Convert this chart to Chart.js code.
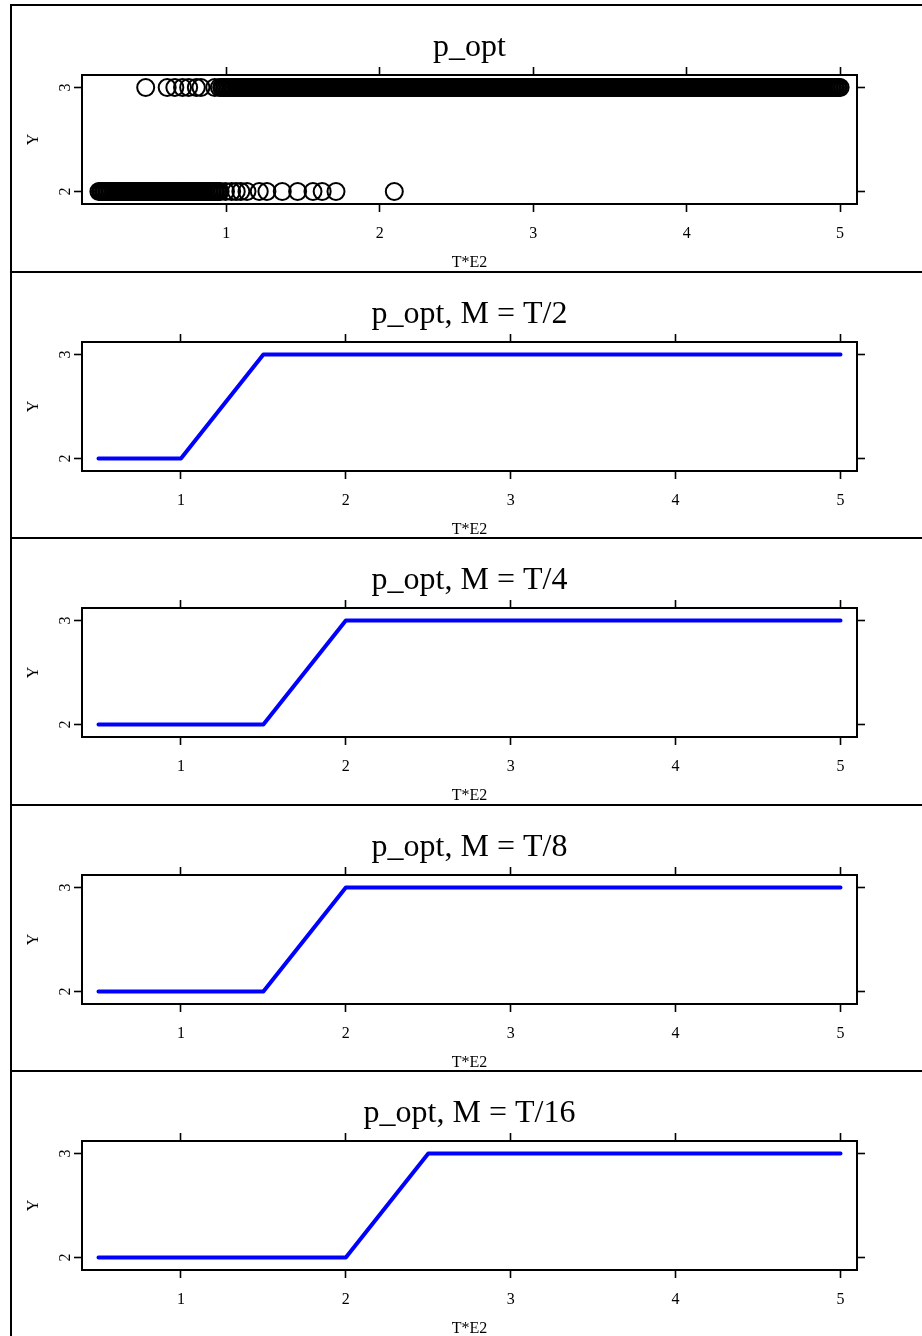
<!DOCTYPE html>
<html><head><meta charset="utf-8">
<script src="https://cdn.jsdelivr.net/npm/chart.js@4/dist/chart.umd.min.js"></script>
<style>
html,body{margin:0;padding:0;background:#fff;}
body{width:922px;height:1336px;position:relative;overflow:hidden;}
.frame{position:absolute;left:10px;width:1000px;height:300px;border-left:2px solid #000;border-top:2px solid #000;box-sizing:border-box;}
canvas{position:absolute;left:0;}
</style></head><body>
<script>
// ---------- data ----------
const panelTitles = ['p_opt', 'p_opt, M = T/2', 'p_opt, M = T/4', 'p_opt, M = T/8', 'p_opt, M = T/16'];
const xTitle = 'T*E2';
const yTitle = 'Y';
const xTicks = [1, 2, 3, 4, 5];
const xTickLabels = ['1', '2', '3', '4', '5'];
const yTicks = [2, 3];
const yTickLabels = ['2', '3'];

// panel 1: T*E2 values where p_opt = 2 and where p_opt = 3
const lowT = [
0.17,0.18,0.19,0.20,0.21,0.22,0.23,0.24,0.25,0.26,0.27,0.28,0.29,0.30,0.31,0.32,0.33,0.34,0.35,0.36,
0.37,0.38,0.39,0.40,0.41,0.42,0.43,0.44,0.45,0.46,0.47,0.48,0.49,0.50,0.51,0.52,0.53,0.54,0.55,0.56,
0.57,0.58,0.59,0.60,0.61,0.62,0.63,0.64,0.65,0.66,0.67,0.68,0.69,0.70,0.71,0.72,0.73,0.74,0.75,0.76,
0.77,0.78,0.79,0.80,0.81,0.82,0.83,0.84,0.85,0.86,0.87,0.88,0.89,0.90,0.91,0.92,0.93,0.94,0.95,0.96,
0.995,1.035,1.065,1.095,1.135,1.215,1.265,1.365,1.465,1.565,1.625,1.715,2.095];
const highT = [
0.475,0.615,0.665,0.715,0.755,0.805,0.835,0.925,0.955,
0.97,0.98,0.99,1.00,1.01,1.02,1.03,1.04,1.05,1.06,1.07,1.08,1.09,1.10,1.11,1.12,1.13,1.14,1.15,1.16,
1.17,1.18,1.19,1.20,1.21,1.22,1.23,1.24,1.25,1.26,1.27,1.28,1.29,1.30,1.31,1.32,1.33,1.34,1.35,1.36,
1.37,1.38,1.39,1.40,1.41,1.42,1.43,1.44,1.45,1.46,1.47,1.48,1.49,1.50,1.51,1.52,1.53,1.54,1.55,1.56,
1.57,1.58,1.59,1.60,1.61,1.62,1.63,1.64,1.65,1.66,1.67,1.68,1.69,1.70,1.71,1.72,1.73,1.74,1.75,1.76,
1.77,1.78,1.79,1.80,1.81,1.82,1.83,1.84,1.85,1.86,1.87,1.88,1.89,1.90,1.91,1.92,1.93,1.94,1.95,1.96,
1.97,1.98,1.99,2.00,2.01,2.02,2.03,2.04,2.05,2.06,2.07,2.08,2.09,2.10,2.11,2.12,2.13,2.14,2.15,2.16,
2.17,2.18,2.19,2.20,2.21,2.22,2.23,2.24,2.25,2.26,2.27,2.28,2.29,2.30,2.31,2.32,2.33,2.34,2.35,2.36,
2.37,2.38,2.39,2.40,2.41,2.42,2.43,2.44,2.45,2.46,2.47,2.48,2.49,2.50,2.51,2.52,2.53,2.54,2.55,2.56,
2.57,2.58,2.59,2.60,2.61,2.62,2.63,2.64,2.65,2.66,2.67,2.68,2.69,2.70,2.71,2.72,2.73,2.74,2.75,2.76,
2.77,2.78,2.79,2.80,2.81,2.82,2.83,2.84,2.85,2.86,2.87,2.88,2.89,2.90,2.91,2.92,2.93,2.94,2.95,2.96,
2.97,2.98,2.99,3.00,3.01,3.02,3.03,3.04,3.05,3.06,3.07,3.08,3.09,3.10,3.11,3.12,3.13,3.14,3.15,3.16,
3.17,3.18,3.19,3.20,3.21,3.22,3.23,3.24,3.25,3.26,3.27,3.28,3.29,3.30,3.31,3.32,3.33,3.34,3.35,3.36,
3.37,3.38,3.39,3.40,3.41,3.42,3.43,3.44,3.45,3.46,3.47,3.48,3.49,3.50,3.51,3.52,3.53,3.54,3.55,3.56,
3.57,3.58,3.59,3.60,3.61,3.62,3.63,3.64,3.65,3.66,3.67,3.68,3.69,3.70,3.71,3.72,3.73,3.74,3.75,3.76,
3.77,3.78,3.79,3.80,3.81,3.82,3.83,3.84,3.85,3.86,3.87,3.88,3.89,3.90,3.91,3.92,3.93,3.94,3.95,3.96,
3.97,3.98,3.99,4.00,4.01,4.02,4.03,4.04,4.05,4.06,4.07,4.08,4.09,4.10,4.11,4.12,4.13,4.14,4.15,4.16,
4.17,4.18,4.19,4.20,4.21,4.22,4.23,4.24,4.25,4.26,4.27,4.28,4.29,4.30,4.31,4.32,4.33,4.34,4.35,4.36,
4.37,4.38,4.39,4.40,4.41,4.42,4.43,4.44,4.45,4.46,4.47,4.48,4.49,4.50,4.51,4.52,4.53,4.54,4.55,4.56,
4.57,4.58,4.59,4.60,4.61,4.62,4.63,4.64,4.65,4.66,4.67,4.68,4.69,4.70,4.71,4.72,4.73,4.74,4.75,4.76,
4.77,4.78,4.79,4.80,4.81,4.82,4.83,4.84,4.85,4.86,4.87,4.88,4.89,4.90,4.91,4.92,4.93,4.94,4.95,4.96,
4.97,4.98,4.99,5.00];

// panels 2-5: step lines
const lineX = [0.5, 1, 1.5, 2, 2.5, 3, 3.5, 4, 4.5, 5];
const yHalf = [2, 2, 3, 3, 3, 3, 3, 3, 3, 3];
const yQuarter = [2, 2, 2, 3, 3, 3, 3, 3, 3, 3];
const yEighth = [2, 2, 2, 3, 3, 3, 3, 3, 3, 3];
const ySixteenth = [2, 2, 2, 2, 3, 3, 3, 3, 3, 3];

// ---------- layout ----------
const panelTops = [5, 272, 538, 805, 1071];
const PANEL_H = 267;
const serif = '"Liberation Serif", "Times New Roman", serif';

function makePanel(i, datasets, xMin, xMax) {
  const fr = document.createElement('div');
  fr.className = 'frame';
  fr.style.top = (panelTops[i] - 1) + 'px';
  document.body.appendChild(fr);
  const cv = document.createElement('canvas');
  cv.width = 922; cv.height = PANEL_H;
  cv.style.top = panelTops[i] + 'px';
  document.body.appendChild(cv);

  const tickFont = {family: serif, size: 16};
  const gridOpt = {drawOnChartArea: false, drawTicks: true, tickLength: 8, tickWidth: 1.6, tickColor: '#000'};
  const borderOpt = {display: true, color: '#000', width: 2};
  const setX = s => { s.ticks = xTicks.map(v => ({value: v})); };
  const setY = s => { s.ticks = yTicks.map(v => ({value: v})); };

  new Chart(cv, {
    type: 'scatter',
    data: {datasets},
    options: {
      responsive: false, animation: false, devicePixelRatio: 1,
      layout: {padding: 0},
      plugins: {
        legend: {display: false}, tooltip: {enabled: false},
        title: {display: true, text: panelTitles[i], fullSize: false, color: '#000',
                font: {family: serif, size: 32, weight: 'normal', lineHeight: 1.2},
                padding: {top: 23, bottom: 0}}
      },
      scales: {
        x: {type: 'linear', position: 'bottom', min: xMin, max: xMax,
            afterBuildTicks: setX,
            ticks: {font: tickFont, color: '#000', padding: 12, maxRotation: 0, autoSkip: false,
                    callback: (v, k) => xTickLabels[k]},
            grid: gridOpt, border: borderOpt,
            title: {display: true, text: xTitle, color: '#000', font: {family: serif, size: 16}, padding: {top: 0, bottom: 0}},
            afterFit: s => { s.height = 68; }},
        x2: {type: 'linear', position: 'top', min: xMin, max: xMax,
            afterBuildTicks: setX,
            ticks: {display: false},
            grid: gridOpt, border: borderOpt,
            afterFit: s => { s.height = 8.6; }},
        y: {type: 'linear', position: 'left', min: 1.88, max: 3.12,
            afterBuildTicks: setY,
            ticks: {font: tickFont, color: '#000', padding: 4, minRotation: 90, maxRotation: 90, crossAlign: 'center',
                    callback: (v, k) => yTickLabels[k]},
            grid: gridOpt, border: borderOpt,
            title: {display: true, text: yTitle, color: '#000', font: {family: serif, size: 16}, padding: {top: 24, bottom: 0}},
            afterFit: s => { s.width = 82; }},
        y2: {type: 'linear', position: 'right', min: 1.88, max: 3.12,
            afterBuildTicks: setY,
            ticks: {display: false},
            grid: gridOpt, border: borderOpt,
            afterFit: s => { s.width = 65; }}
      }
    }
  });
}

// panel 1: scatter of open circles
const scatterPts = lowT.map(t => ({x: t, y: 2})).concat(highT.map(t => ({x: t, y: 3})));
makePanel(0, [{
  data: scatterPts, xAxisID: 'x', yAxisID: 'y', clip: false,
  pointStyle: 'circle', pointRadius: 8.5, pointHoverRadius: 8.5, pointBorderWidth: 2,
  pointBackgroundColor: 'rgba(0,0,0,0)', pointBorderColor: '#000', showLine: false
}], 0.06, 5.11);

function lineSet(ys) {
  return [{
    data: lineX.map((x, k) => ({x, y: ys[k]})), xAxisID: 'x', yAxisID: 'y',
    showLine: true, borderColor: '#0000FF', borderWidth: 4, pointRadius: 0, pointHoverRadius: 0,
    tension: 0, borderCapStyle: 'round', borderJoinStyle: 'round', fill: false
  }];
}
makePanel(1, lineSet(yHalf), 0.4, 5.1);
makePanel(2, lineSet(yQuarter), 0.4, 5.1);
makePanel(3, lineSet(yEighth), 0.4, 5.1);
makePanel(4, lineSet(ySixteenth), 0.4, 5.1);
</script>
</body></html>
